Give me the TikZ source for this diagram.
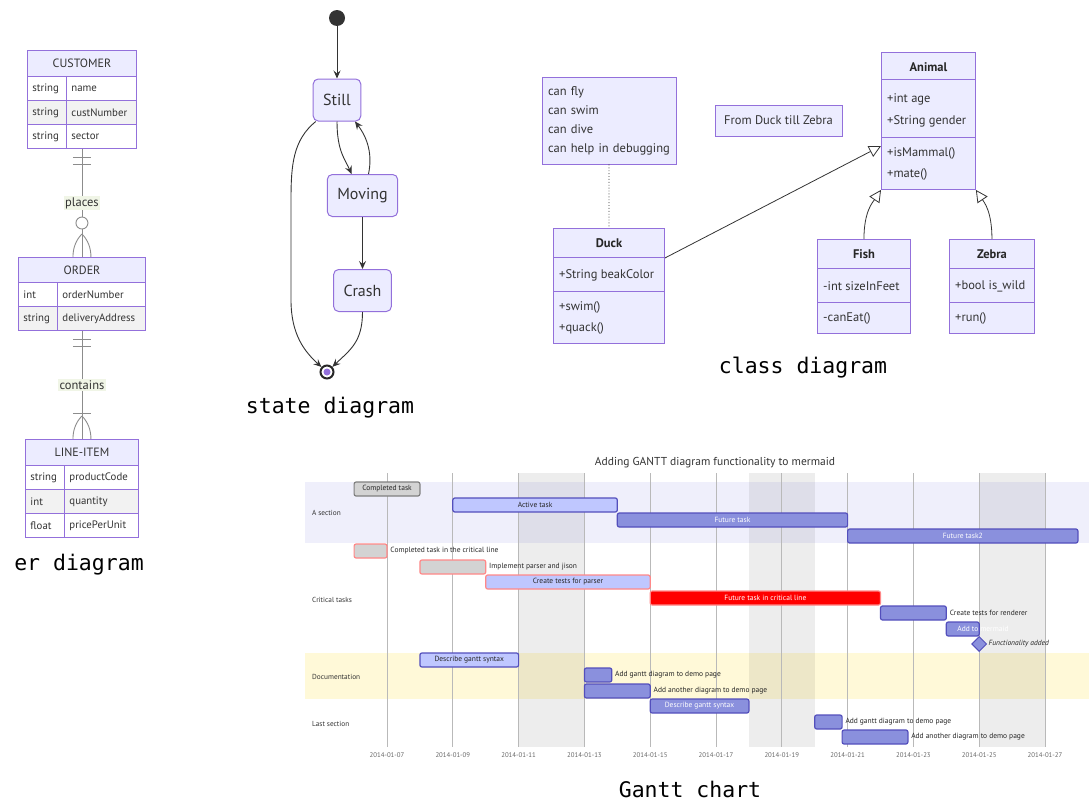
\documentclass[tikz,border=0pt]{standalone}
\usepackage{fontspec}
\setmainfont{PT Sans}
\newfontfamily\capfont{DejaVu Sans Mono}
\usepackage{tikz}
\usetikzlibrary{arrows.meta,positioning,shapes.geometric,calc}

\definecolor{mpurple}{HTML}{9370DB}
\definecolor{mlav}{HTML}{ECECFF}
\definecolor{mtext}{HTML}{333333}
\definecolor{rowgray}{HTML}{F2F2F2}
\definecolor{lblbg}{HTML}{F0F5E6}
\definecolor{linegray}{HTML}{8C8C8C}
\definecolor{gdonefill}{HTML}{D3D3D3}
\definecolor{gdoneline}{HTML}{808080}
\definecolor{gactfill}{HTML}{BFC7FF}
\definecolor{gtaskfill}{HTML}{8A90DD}
\definecolor{gtaskline}{HTML}{534FBC}
\definecolor{gcritline}{HTML}{FF8888}
\definecolor{secA}{HTML}{EFEFFB}
\definecolor{secDoc}{HTML}{FFF9D8}

\begin{document}
\begin{tikzpicture}[x=1pt, y=-1pt,
  erbox/.style={draw=mpurple, line width=0.9pt, inner sep=0pt, anchor=north west},
  erhead/.style={draw=mpurple, fill=mlav, line width=0.9pt, minimum height=26pt, inner sep=0pt,
                 anchor=north west, text=mtext, font=\fontsize{12}{14}\selectfont},
  ercell/.style={draw=mpurple, line width=0.9pt, minimum height=24pt, inner xsep=5pt, inner ysep=0pt,
                 align=left, anchor=north west, text=mtext, font=\fontsize{10.8}{12}\selectfont},
  erline/.style={draw=linegray, line width=0.9pt},
  erlabel/.style={fill=lblbg, inner sep=1.5pt, text=mtext, font=\fontsize{12.5}{14}\selectfont},
  stbox/.style={draw=mpurple, fill=mlav, line width=1pt, rounded corners=5pt, minimum height=42pt,
                inner xsep=10pt, text=mtext, font=\fontsize{16}{19}\selectfont},
  endstate/.style={circle, draw=black!85, line width=2pt, fill=white, minimum size=13pt, inner sep=0pt,
                   path picture={\fill[mpurple] (path picture bounding box.center) circle (3.5pt);}},
  sarrow/.style={draw=mtext, line width=0.9pt, -{Stealth[length=8pt,width=7pt,inset=3pt]}},
  caption/.style={font=\capfont\fontsize{21.5}{24}\selectfont},
  classbox/.style={draw=mpurple, fill=mlav, line width=0.9pt, inner sep=0pt, anchor=north west},
  classname/.style={inner sep=0pt, text=black!85, font=\bfseries\fontsize{12.5}{15}\selectfont},
  member/.style={anchor=west, inner sep=0pt, text=mtext, font=\fontsize{12.5}{15}\selectfont},
  sepline/.style={draw=mpurple, line width=0.9pt},
  inherit/.style={draw=mtext, line width=0.8pt, -{Triangle[open, length=12pt, width=12pt, fill=white]}},
  gbar/.style={rounded corners=2pt, line width=1.2pt},
  gdone/.style={gbar, fill=gdonefill, draw=gdoneline},
  gdonecrit/.style={gbar, fill=gdonefill, draw=gcritline},
  gactive/.style={gbar, fill=gactfill, draw=gtaskline},
  gactcrit/.style={gbar, fill=gactfill, draw=gcritline},
  gtask/.style={gbar, fill=gtaskfill, draw=gtaskline},
  gcrit/.style={gbar, fill=red, draw=gcritline},
  gin/.style={inner sep=0pt, text=black!85, font=\fontsize{7.5}{8}\selectfont},
  gwhite/.style={gin, text=white},
  gout/.style={gin, anchor=west},
  ggrid/.style={draw=gray!55, line width=0.9pt},
  gtick/.style={inner sep=0pt, text=black!60, font=\fontsize{6.8}{8}\selectfont},
  gsection/.style={anchor=west, inner sep=0pt, text=mtext, font=\fontsize{7.3}{8}\selectfont}
]
\useasboundingbox (0,0) rectangle (1089,803);

% ---- er diagram
\node[erbox, minimum width=109pt, minimum height=98pt] (cust) at (27,50) {};
\node[erhead, minimum width=109pt] (cust-h) at (27,50) {CUSTOMER};
\foreach \ty/\nm/\bg [count=\i] in {string/name/white, string/custNumber/rowgray, string/sector/white}{
  \node[ercell, fill=\bg, text width=29pt] (cust-t\i) at (27,52+24*\i) {\ty};
  \node[ercell, fill=\bg, text width=60pt] (cust-n\i) at (66,52+24*\i) {\nm};
}
\node[erbox, minimum width=127pt, minimum height=73pt] (order) at (18,257) {};
\node[erhead, minimum width=127pt, minimum height=25pt] (order-h) at (18,257) {ORDER};
\foreach \ty/\nm/\bg [count=\i] in {int/orderNumber/white, string/deliveryAddress/rowgray}{
  \node[ercell, fill=\bg, text width=29pt] (order-t\i) at (18,258+24*\i) {\ty};
  \node[ercell, fill=\bg, text width=78pt] (order-n\i) at (57,258+24*\i) {\nm};
}
\node[erbox, minimum width=113pt, minimum height=98pt] (litem) at (25,439) {};
\node[erhead, minimum width=113pt] (litem-h) at (25,439) {LINE-ITEM};
\foreach \ty/\nm/\bg [count=\i] in {string/productCode/white, int/quantity/rowgray, float/pricePerUnit/white}{
  \node[ercell, fill=\bg, text width=29pt] (litem-t\i) at (25,441+24*\i) {\ty};
  \node[ercell, fill=\bg, text width=64pt] (litem-n\i) at (64,441+24*\i) {\nm};
}

\draw[erline] (cust) -- node[erlabel] (places) {places} (order);
\draw[erline] (order) -- node[erlabel] (contains) {contains} (litem);
% one and only one
\draw[erline] ($(cust.south)+(-9,9)$) -- ++(18,0) ($(cust.south)+(-9,16)$) -- ++(18,0);
\draw[erline] ($(order.south)+(-9,9)$) -- ++(18,0) ($(order.south)+(-9,16)$) -- ++(18,0);
% zero or more
\draw[erline, fill=white] ($(order.north)+(0,-34)$) circle[radius=6pt];
\draw[erline] ($(order.north)+(0,-23)$) .. controls ($(order.north)+(-6,-17)$) and ($(order.north)+(-9,-9)$) .. ($(order.north)+(-9,0)$);
\draw[erline] ($(order.north)+(0,-23)$) .. controls ($(order.north)+(6,-17)$) and ($(order.north)+(9,-9)$) .. ($(order.north)+(9,0)$);
% one or more
\draw[erline] ($(litem.north)+(-9,-26)$) -- ++(18,0);
\draw[erline] ($(litem.north)+(0,-23)$) .. controls ($(litem.north)+(-6,-17)$) and ($(litem.north)+(-9,-9)$) .. ($(litem.north)+(-9,0)$);
\draw[erline] ($(litem.north)+(0,-23)$) .. controls ($(litem.north)+(6,-17)$) and ($(litem.north)+(9,-9)$) .. ($(litem.north)+(9,0)$);

\node[caption] (ercap) at (79,565) {er diagram};

% ---- state diagram
\node[circle, fill=mtext, minimum size=16pt, inner sep=0pt] (start) at (337,18) {};
\node[stbox] (still) at (337,100) {Still};
\node[stbox] (moving) at (362.5,195.5) {Moving};
\node[stbox] (crash) at (362.5,290.5) {Crash};
\node[endstate] (stop) at (327,372) {};

\draw[sarrow] (start) -- (still);
\draw[sarrow] (still.south) .. controls ($(still.south)+(0,30)$) and ($(moving.north)+(-17,-14)$) .. ([xshift=-11pt]moving.north);
\draw[sarrow] ([xshift=6pt]moving.north) .. controls ($(moving.north)+(10,-19)$) and ($(still.south)+(31,17)$) .. ([xshift=18pt]still.south);
\draw[sarrow] (moving) -- (crash);
\draw[sarrow] ([xshift=3pt]still.south west) .. controls (293,140) and (291,165) .. (291,200)
  -- (291,300) .. controls (291,335) and (305,352) .. (stop);
\draw[sarrow] (crash.south) .. controls ($(crash.south)+(0,30)$) and (350,350) .. (stop);

\node[caption] (stcap) at (330,408) {state diagram};

% ---- class diagram
\node[classbox, anchor=center, minimum width=134pt, minimum height=87pt, text width=122pt, inner xsep=6pt,
      align=left, text=mtext, font=\fontsize{12.5}{19}\selectfont] (note) at (609,120.5)
      {can fly\\can swim\\can dive\\can help in debugging};
\node[classbox, anchor=center, minimum width=127pt, minimum height=31pt, text=mtext,
      font=\fontsize{12.5}{15}\selectfont] (ftz) at (778.5,120.5) {From Duck till Zebra};

\node[classbox, minimum width=111pt, minimum height=115pt] (duck) at (553,228) {};
\node[classname] (duck-n) at ($(duck.north)+(0,15)$) {Duck};
\draw[sepline] ($(duck.north west)+(0,29)$) -- ($(duck.north east)+(0,29)$);
\draw[sepline] ($(duck.north west)+(0,63)$) -- ($(duck.north east)+(0,63)$);
\node[member] (duck-a1) at ($(duck.north west)+(6,47)$) {+String beakColor};
\node[member] (duck-m1) at ($(duck.north west)+(6,79)$) {+swim()};
\node[member] (duck-m2) at ($(duck.north west)+(6,100)$) {+quack()};

\node[classbox, minimum width=94pt, minimum height=137pt] (animal) at (881,52) {};
\node[classname] (animal-n) at ($(animal.north)+(0,15)$) {Animal};
\draw[sepline] ($(animal.north west)+(0,27)$) -- ($(animal.north east)+(0,27)$);
\draw[sepline] ($(animal.north west)+(0,85)$) -- ($(animal.north east)+(0,85)$);
\foreach \txt/\yy [count=\i] in {{+int age}/47, {+String gender}/69, {+isMammal()}/101, {+mate()}/122}
  \node[member] (animal-m\i) at ($(animal.north west)+(6,\yy)$) {\txt};

\node[classbox, minimum width=93pt, minimum height=94pt] (fish) at (817,239) {};
\node[classname] (fish-n) at ($(fish.north)+(0,15)$) {Fish};
\draw[sepline] ($(fish.north west)+(0,29)$) -- ($(fish.north east)+(0,29)$);
\draw[sepline] ($(fish.north west)+(0,63)$) -- ($(fish.north east)+(0,63)$);
\node[member] (fish-a1) at ($(fish.north west)+(6,47)$) {-int sizeInFeet};
\node[member] (fish-m1) at ($(fish.north west)+(6,79)$) {-canEat()};

\node[classbox, minimum width=85pt, minimum height=94pt] (zebra) at (949,239) {};
\node[classname] (zebra-n) at ($(zebra.north)+(0,15)$) {Zebra};
\draw[sepline] ($(zebra.north west)+(0,29)$) -- ($(zebra.north east)+(0,29)$);
\draw[sepline] ($(zebra.north west)+(0,63)$) -- ($(zebra.north east)+(0,63)$);
\node[member] (zebra-a1) at ($(zebra.north west)+(6,47)$) {+bool is\_wild};
\node[member] (zebra-m1) at ($(zebra.north west)+(6,79)$) {+run()};

\draw[dotted, draw=mtext, line width=0.9pt] (note) -- (duck);
\draw[inherit] ($(duck.north east)+(0,30)$) -- ($(animal.north west)+(0,94)$);
\draw[inherit] (fish.north) .. controls ($(fish.north)+(0,-28)$) and ($(animal.south west)+(-8,12)$) .. (animal.south west);
\draw[inherit] (zebra.north) .. controls ($(zebra.north)+(0,-28)$) and ($(animal.south east)+(8,12)$) .. (animal.south east);

\node[caption] (clcap) at (803,368) {class diagram};

% ---- gantt chart
\node[text=mtext, font=\fontsize{11.5}{13}\selectfont] (gtitle) at (715,463)
  {Adding GANTT diagram functionality to mermaid};
\fill[secA] (305,482) rectangle (1089,543);
\fill[secDoc] (305,653) rectangle (1089,699);
\node[gsection] (sec-a) at (312,513) {A section};
\node[gsection] (sec-crit) at (312,600) {Critical tasks};
\node[gsection] (sec-doc) at (312,677) {Documentation};
\node[gsection] (sec-last) at (312,724) {Last section};

\begin{scope}[shift={(156.7,0)}, x=32.9pt]
  % weekends and grid, x = day of January 2014
  \foreach \d in {11,18,25}
    \fill[black, opacity=0.07] (\d,473) rectangle (\d+2,747);
  \foreach \d in {7,9,...,27}{
    \draw[ggrid] (\d,473) -- (\d,747);
    \node[gtick] (tk\d) at (\d,755) {2014-01-\ifnum\d<10 0\fi\d};
  }

  % A section
  \draw[gdone] (6,482) rectangle (8,496);
  \node[gin] (g1) at (7,489) {Completed task};
  \draw[gactive] (9,498) rectangle (14,512);
  \node[gin] (g2) at (11.5,505) {Active task};
  \draw[gtask] (14,513) rectangle (21,527);
  \node[gwhite] (g3) at (17.5,520) {Future task};
  \draw[gtask] (21,529) rectangle (28,543);
  \node[gwhite] (g4) at (24.5,536) {Future task2};

  % Critical tasks
  \draw[gdonecrit] (6,544) rectangle (7,558);
  \node[gout] (g5) at (7.1,551) {Completed task in the critical line};
  \draw[gdonecrit] (8,560) rectangle (10,574);
  \node[gout] (g6) at (10.1,567) {Implement parser and jison};
  \draw[gactcrit] (10,575) rectangle (15,589);
  \node[gin] (g7) at (12.5,582) {Create tests for parser};
  \draw[gcrit] (15,591) rectangle (22,605);
  \node[gwhite] (g8) at (18.5,598) {Future task in critical line};
  \draw[gtask] (22,606) rectangle (24,620);
  \node[gout] (g9) at (24.1,613) {Create tests for renderer};
  \draw[gtask] (24,622) rectangle (25,636);
  \node[gwhite, anchor=west] (g10) at (24.33,629) {Add to mermaid};
  \node[diamond, fill=gtaskfill, draw=gtaskline, line width=1pt, minimum width=15pt,
        minimum height=15pt, inner sep=0pt] (g11) at (25,644) {};
  \node[gout, font=\itshape\fontsize{7.5}{8}\selectfont] (g11-l) at (25.28,644) {Functionality added};

  % Documentation
  \draw[gactive] (8,653) rectangle (11,667);
  \node[gin] (g12) at (9.5,660) {Describe gantt syntax};
  \draw[gtask] (13,668) rectangle (13.833,682);
  \node[gout] (g13) at (13.93,675) {Add gantt diagram to demo page};
  \draw[gtask] (13,684) rectangle (15,698);
  \node[gout] (g14) at (15.1,691) {Add another diagram to demo page};

  % Last section
  \draw[gtask] (15,699) rectangle (18,713);
  \node[gwhite] (g15) at (16.5,706) {Describe gantt syntax};
  \draw[gtask] (20,715) rectangle (20.833,729);
  \node[gout] (g16) at (20.93,722) {Add gantt diagram to demo page};
  \draw[gtask] (20.833,730) rectangle (22.833,744);
  \node[gout] (g17) at (22.93,737) {Add another diagram to demo page};
\end{scope}

\node[caption] (gcap) at (690,789) {Gantt chart};
\end{tikzpicture}
\end{document}
